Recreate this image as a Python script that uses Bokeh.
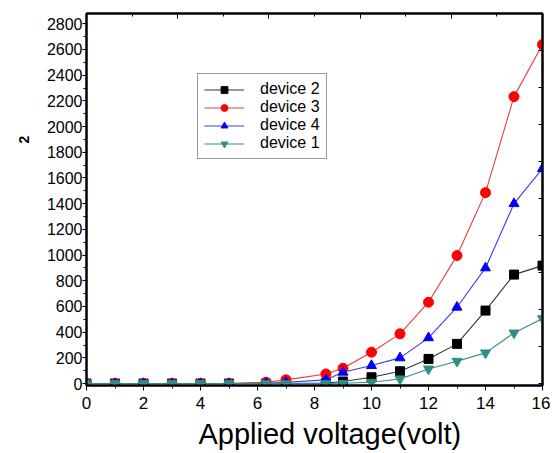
from bokeh.plotting import figure
from bokeh.models import (LinearAxis, FixedTicker, Legend, LegendItem, Range1d, Title,
                          CustomJSTickFormatter)
from bokeh.embed import file_html
from bokeh.resources import INLINE

voltage = [0, 1, 2, 3, 4, 5, 6.3, 7, 8.4, 9, 10, 11, 12, 13, 14, 15, 16]
device2 = [0, 0, 0, 0, 0, 0, 0, 3, 5, 16, 49, 96, 192, 309, 568, 848, 918]
device3 = [0, 0, 0, 0, 0, 0, 10, 29, 75, 119, 244, 387, 633, 996, 1486, 2233, 2638]
device4 = [0, 0, 0, 0, 0, 0, 3, 10, 29, 88, 140, 200, 356, 594, 900, 1400, 1673]
device1 = [0, 0, 0, 0, 0, 0, 0, 0, 0, 2, 10, 36, 114, 174, 239, 394, 506]

x_ticks = [0, 2, 4, 6, 8, 10, 12, 14, 16]
y_ticks = list(range(0, 2801, 200))

FONT = "Liberation Sans"

p = figure(frame_width=456, frame_height=372, output_backend="svg", toolbar_location=None,
           x_range=Range1d(0, 16), y_range=Range1d(-15, 2880))
p.min_border_left = 86
p.min_border_top = 13
p.min_border_right = 8
p.min_border_bottom = 66
p.xgrid.visible = False
p.ygrid.visible = False
p.outline_line_color = "black"
p.outline_line_width = 2
p.background_fill_color = "white"
p.border_fill_color = "white"

# bottom axis
xa = p.xaxis[0]
xa.ticker = FixedTicker(ticks=x_ticks, minor_ticks=list(range(0, 17)))
xa.axis_line_width = 2
xa.major_tick_out = 5
xa.major_tick_in = 0
xa.minor_tick_out = 3
xa.minor_tick_in = 0
xa.major_label_standoff = 6
xa.major_label_text_font = FONT
xa.major_label_text_font_size = "17px"
xa.major_label_text_color = "black"

# left axis
ya = p.yaxis[0]
ya.ticker = FixedTicker(ticks=y_ticks, minor_ticks=list(range(0, 2801, 100)))
ya.axis_line_width = 2
ya.major_tick_out = 4
ya.major_tick_in = 0
ya.minor_tick_out = 3
ya.minor_tick_in = 0
ya.major_label_standoff = 0
ya.major_label_text_font = FONT
ya.major_label_text_font_size = "16px"
ya.major_label_text_color = "black"

blank = CustomJSTickFormatter(code="return '';")

# top axis (ten divisions, inward ticks)
top = LinearAxis(ticker=FixedTicker(ticks=[3.2 * i for i in range(6)],
                                    minor_ticks=[1.6 * i for i in range(11)]),
                 formatter=blank)
top.major_tick_in = 5
top.major_tick_out = 0
top.minor_tick_in = 3
top.minor_tick_out = 0
top.axis_line_width = 2
top.major_label_standoff = 0
p.add_layout(top, "above")

# right axis (ten divisions, inward ticks)
right = LinearAxis(ticker=FixedTicker(ticks=[288 * i for i in range(11)], minor_ticks=[]),
                   formatter=blank)
right.major_tick_in = 4
right.major_tick_out = 0
right.minor_tick_in = 0
right.minor_tick_out = 0
right.axis_line_width = 2
right.major_label_standoff = 0
p.add_layout(right, "right")

teal = "#2e8f86"
series = [
    ("device 2", device2, "black", "#333333", "square"),
    ("device 3", device3, "#ff0000", "#e83a3a", "circle"),
    ("device 4", device4, "#0000ff", "#3a3aee", "triangle"),
    ("device 1", device1, teal, teal, "inverted_triangle"),
]
items = []
for name, ys, mc, lc, mk in series:
    ln = p.line(voltage, ys, line_color=lc, line_width=1.1)
    sc = p.scatter(voltage, ys, marker=mk, size=10 if mk != "square" else 9,
                   fill_color=mc, line_color=mc)
    items.append(LegendItem(label=name, renderers=[ln, sc]))

legend = Legend(items=items, location=(111, 226))
legend.label_text_font = FONT
legend.label_text_font_size = "16px"
legend.label_text_color = "black"
legend.label_height = 17
legend.glyph_height = 17
legend.glyph_width = 40
legend.label_standoff = 16
legend.spacing = 0
legend.padding = 6
legend.margin = 0
legend.border_line_color = "#333333"
legend.border_line_width = 1
legend.background_fill_color = "white"
p.add_layout(legend, "center")

xtitle = Title(text="Applied voltage(volt)", align="left", offset=112,
               text_font=FONT, text_font_size="29px", text_font_style="normal",
               text_color="black", standoff=8)
p.add_layout(xtitle, "below")

ytitle = Title(text="2", align="left", offset=242, text_font=FONT,
               text_font_size="14px", text_font_style="bold", text_color="black",
               standoff=30)
p.add_layout(ytitle, "left")

open("out.html", "w").write(file_html(p, INLINE))
